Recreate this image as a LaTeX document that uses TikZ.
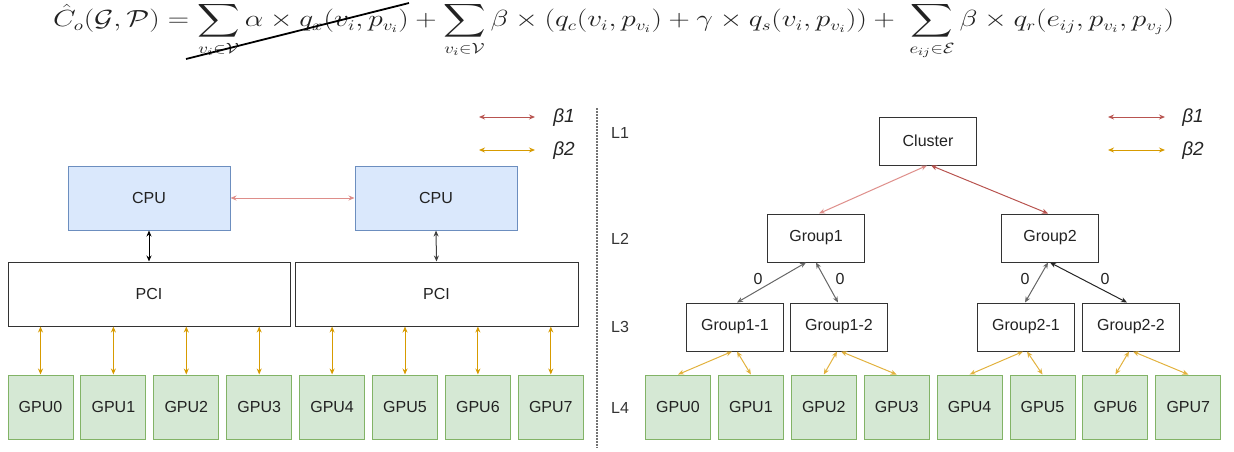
\documentclass[tikz,border=0pt]{standalone}
\usepackage[no-math]{fontspec}
\usepackage{graphicx}
\usepackage{amsmath}
\newfontfamily\arialf{Liberation Sans}
\usetikzlibrary{arrows.meta}
\definecolor{cpuf}{HTML}{DAE8FC}
\definecolor{cpud}{HTML}{6C8EBF}
\definecolor{gpuf}{HTML}{D5E8D4}
\definecolor{gpud}{HTML}{82B366}
\definecolor{redd}{HTML}{B85450}
\definecolor{redl}{HTML}{DE8E8A}
\definecolor{orad}{HTML}{D79B00}
\definecolor{oral}{HTML}{E2B23E}
\definecolor{txt}{HTML}{222222}
\tikzset{
  every node/.style={font=\arialf\fontsize{16}{19}\selectfont, text=txt},
  box/.style={draw=black!80, line width=1pt, minimum width=97pt, minimum height=48pt, inner sep=0pt},
  cpubox/.style={draw=cpud, fill=cpuf, line width=1pt, minimum width=162pt, minimum height=64pt, inner sep=0pt},
  pcibox/.style={draw=black!80, line width=1pt, minimum width=282pt, minimum height=64pt, inner sep=0pt},
  gpubox/.style={draw=gpud, fill=gpuf, line width=1pt, minimum width=65pt, minimum height=64pt, inner sep=0pt},
  conn/.style={line width=1pt, {Stealth[length=6pt,width=5pt]}-{Stealth[length=6pt,width=5pt]}},
  redc/.style={conn, draw=redd},
  redlc/.style={conn, draw=redl},
  orac/.style={conn, draw=orad},
  oralc/.style={conn, draw=oral},
  blkc/.style={conn, draw=black},
  gryc/.style={conn, draw=black!60},
  lvl/.style={text=black!80},
  beta/.style={font=\arialf\itshape\fontsize{19}{22}\selectfont, text=black!85},
}
\begin{document}
\begin{tikzpicture}[x=1pt,y=-1pt]
\useasboundingbox (0,0) rectangle (1234,451);

% equation
\node[anchor=north west, inner sep=0pt] (eq) at (53,2) {\resizebox*{1121pt}{58pt}{$\displaystyle \hat{C}_o(\mathcal{G},\mathcal{P}) = \sum_{v_i\in\mathcal{V}} \alpha\times q_x(v_i,p_{v_i}) + \sum_{v_i\in\mathcal{V}}\beta\times(q_c(v_i,p_{v_i})+\gamma\times q_s(v_i,p_{v_i})) +\; \sum_{e_{ij}\in\mathcal{E}}\beta\times q_r(e_{ij},p_{v_i},p_{v_j})$}};
\coordinate (sa) at (186,59);
\coordinate (sb) at (409,3);
\draw[line width=1.8pt] (sa) -- (sb);

% divider
\coordinate (da) at (597,108);
\coordinate (db) at (597,448);
\draw[black!55, line width=1.2pt, dash pattern=on 1.5pt off 1.5pt] (da) -- (db);

% ---------- left panel ----------
\node[cpubox] (cpu1) at (149,198) {CPU};
\node[cpubox] (cpu2) at (436,198) {CPU};
\node[pcibox] (pci1) at (149,294) {PCI};
\node[pcibox, minimum width=283pt] (pci2) at (436.5,294) {PCI};
\foreach \i in {0,...,7}{
  \node[gpubox] (lg\i) at ({40.5+72.9*\i},407) {GPU\i};
}
\draw[redlc] (cpu1.east) -- (cpu2.west);
\draw[blkc] (cpu1.south) -- (pci1.north);
\draw[gryc, draw=black!75] (cpu2.south) -- (pci2.north);
\foreach \i in {0,...,3}{
  \draw[orac] (pci1.south -| lg\i.north) -- (lg\i.north);
}
\foreach \i in {4,...,7}{
  \draw[orac] (pci2.south -| lg\i.north) -- (lg\i.north);
}

% left legend
\coordinate (la1) at (479,117); \coordinate (lb1) at (535,117);
\coordinate (la2) at (479,150); \coordinate (lb2) at (535,150);
\draw[redc] (la1) -- (lb1);
\draw[orac] (la2) -- (lb2);
\node[beta] (lbeta1) at (564,118) {β1};
\node[beta] (lbeta2) at (564,151) {β2};

% ---------- right panel ----------
\node[lvl] (L1) at (620,133) {L1};
\node[lvl] (L2) at (620,239) {L2};
\node[lvl] (L3) at (620,327) {L3};
\node[lvl] (L4) at (620,408) {L4};

\node[box] (cl) at (928,141) {Cluster};
\node[box] (g1) at (816,238) {Group1};
\node[box] (g2) at (1050,238) {Group2};
\node[box] (g11) at (735,327) {Group1-1};
\node[box] (g12) at (839,327) {Group1-2};
\node[box] (g21) at (1026,327) {Group2-1};
\node[box] (g22) at (1131,327) {Group2-2};
\foreach \i in {0,...,7}{
  \node[gpubox] (rg\i) at ({678+72.9*\i},407) {GPU\i};
}
\draw[redlc] ([xshift=-1pt]cl.south) -- ([xshift=3pt]g1.north);
\draw[redc] ([xshift=3pt]cl.south) -- ([xshift=-2pt]g2.north);
\draw[gryc] ([xshift=-10pt]g1.south) -- ([xshift=2pt]g11.north);
\draw[gryc] ([xshift=0pt]g1.south) -- ([xshift=-1pt]g12.north);
\draw[gryc] ([xshift=-2pt]g2.south) -- ([xshift=-1pt]g21.north);
\draw[blkc, draw=black!85] ([xshift=0pt]g2.south) -- ([xshift=-4pt]g22.north);
\node (z1) at (758,279) {0};
\node (z2) at (840,279) {0};
\node (z3) at (1025,279) {0};
\node (z4) at (1105,279) {0};

\draw[oralc] ([xshift=-3pt]g11.south) -- (rg0.north);
\draw[oralc] ([xshift=2pt]g11.south) -- (rg1.north);
\draw[oralc] ([xshift=-2pt]g12.south) -- (rg2.north);
\draw[oralc] ([xshift=2pt]g12.south) -- (rg3.north);
\draw[oralc] ([xshift=-3pt]g21.south) -- (rg4.north);
\draw[oralc] ([xshift=1pt]g21.south) -- (rg5.north);
\draw[oralc] ([xshift=-2pt]g22.south) -- (rg6.north);
\draw[oralc] ([xshift=2pt]g22.south) -- (rg7.north);

% right legend
\coordinate (ra1) at (1108,117); \coordinate (rb1) at (1165,117);
\coordinate (ra2) at (1108,150); \coordinate (rb2) at (1165,150);
\draw[redc] (ra1) -- (rb1);
\draw[orac] (ra2) -- (rb2);
\node[beta] (rbeta1) at (1193,118) {β1};
\node[beta] (rbeta2) at (1193,151) {β2};
\end{tikzpicture}
\end{document}
